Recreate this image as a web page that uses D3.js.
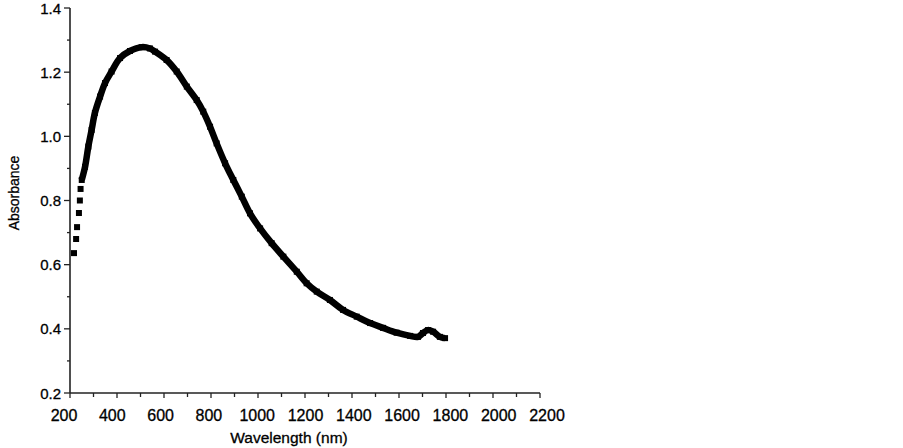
<!DOCTYPE html>
<html>
<head>
<meta charset="utf-8">
<script src="https://cdn.jsdelivr.net/npm/d3@7"></script>
<style>
  body { margin: 0; background: #fff; }
  text { font-family: "Liberation Sans", Arial, sans-serif; fill: #000; stroke: #000; stroke-width: 0.3px; }
</style>
</head>
<body>
<div id="chart"></div>
<script>
// data (nm, absorbance)
var wavelength = [217, 226, 230, 238, 242, 245,
  250, 264, 278, 292, 306, 328, 349, 377, 413, 455, 505, 540, 562, 611, 654,
  697, 739, 767, 796, 824, 860, 895, 931, 966, 1009, 1058, 1108, 1165, 1207,
  1250, 1306, 1362, 1420, 1477, 1532, 1590, 1647, 1681, 1702, 1723,
  1745, 1774, 1796];
var absorbance = [0.636, 0.680, 0.717, 0.761, 0.800, 0.836,
  0.864, 0.905, 0.968, 1.020, 1.073, 1.124, 1.166, 1.202, 1.244, 1.266, 1.278, 1.274, 1.264, 1.238, 1.202,
  1.155, 1.113, 1.077, 1.030, 0.978, 0.916, 0.864, 0.812, 0.760, 0.713, 0.667, 0.625, 0.578, 0.542,
  0.516, 0.490, 0.459, 0.438, 0.418, 0.403, 0.388, 0.378, 0.375, 0.387, 0.396,
  0.391, 0.375, 0.371];
var bandStart = 250;   // from here on the markers merge into a solid band
var xTicks = [200, 400, 600, 800, 1000, 1200, 1400, 1600, 1800, 2000, 2200];
var yTicks = [0.2, 0.4, 0.6, 0.8, 1.0, 1.2, 1.4];

var W = 903, H = 448;
var svg = d3.select("#chart").append("svg")
  .attr("width", W).attr("height", H);

// scales
var x = d3.scaleLinear().domain([200, 2200]).range([70, 540]);
var y = d3.scaleLinear().domain([0.2, 1.4]).range([393, 8]);
// tick labels in the scan sit a bit wider than the ticks
var xLab = d3.scaleLinear().domain([200, 2200]).range([64, 547]);

var axisCol = "#222";

// x axis: line + ticks every 100 nm
svg.append("line")
  .attr("x1", x(200)).attr("x2", x(2200))
  .attr("y1", y(0.2)).attr("y2", y(0.2))
  .attr("stroke", axisCol).attr("stroke-width", 1.6);
svg.append("g").selectAll("line")
  .data(d3.range(200, 2201, 100))
  .enter().append("line")
    .attr("x1", d => x(d)).attr("x2", d => x(d))
    .attr("y1", y(0.2)).attr("y2", d => y(0.2) + (d % 200 == 0 ? 5 : 4))
    .attr("stroke", axisCol).attr("stroke-width", 1.3);
svg.append("g").selectAll("text")
  .data(xTicks)
  .enter().append("text")
    .attr("x", d => xLab(d))
    .attr("y", 421)
    .attr("text-anchor", "middle")
    .style("font-size", "16px")
    .text(d => d);

// y axis: line + ticks every 0.1
svg.append("line")
  .attr("x1", x(200)).attr("x2", x(200))
  .attr("y1", y(1.4)).attr("y2", y(0.2))
  .attr("stroke", axisCol).attr("stroke-width", 1.6);
svg.append("g").selectAll("line")
  .data(d3.range(2, 15))
  .enter().append("line")
    .attr("x1", d => x(200) - (d % 2 == 0 ? 6 : 3)).attr("x2", x(200))
    .attr("y1", d => y(d / 10)).attr("y2", d => y(d / 10))
    .attr("stroke", axisCol).attr("stroke-width", 1.3);
svg.append("g").selectAll("text")
  .data(yTicks)
  .enter().append("text")
    .attr("x", 61)
    .attr("y", d => y(d) + 5.5)
    .attr("text-anchor", "end")
    .style("font-size", "15px")
    .text(d => d.toFixed(1));

// axis titles
svg.append("text")
  .attr("x", 289).attr("y", 443)
  .attr("text-anchor", "middle")
  .style("font-size", "15.5px")
  .text("Wavelength (nm)");
svg.append("text")
  .attr("transform", "translate(19,193) rotate(-90)")
  .attr("text-anchor", "middle")
  .style("font-size", "14px")
  .text("Absorbance");

// spectrum
var pts = wavelength.map((w, i) => ({w: w, a: absorbance[i]}));

var line = d3.line()
  .x(d => x(d.w)).y(d => y(d.a))
  .curve(d3.curveCatmullRom);
svg.append("path")
  .datum(pts.filter(d => d.w >= bandStart))
  .attr("d", line)
  .attr("fill", "none")
  .attr("stroke", "#000")
  .attr("stroke-width", 6.5)
  .attr("stroke-linejoin", "round");

var sz = 6;
svg.append("g").selectAll("rect")
  .data(pts)
  .enter().append("rect")
    .attr("x", d => x(d.w) - sz / 2)
    .attr("y", d => y(d.a) - sz / 2)
    .attr("width", sz).attr("height", sz)
    .attr("fill", "#000");
</script>
</body>
</html>
